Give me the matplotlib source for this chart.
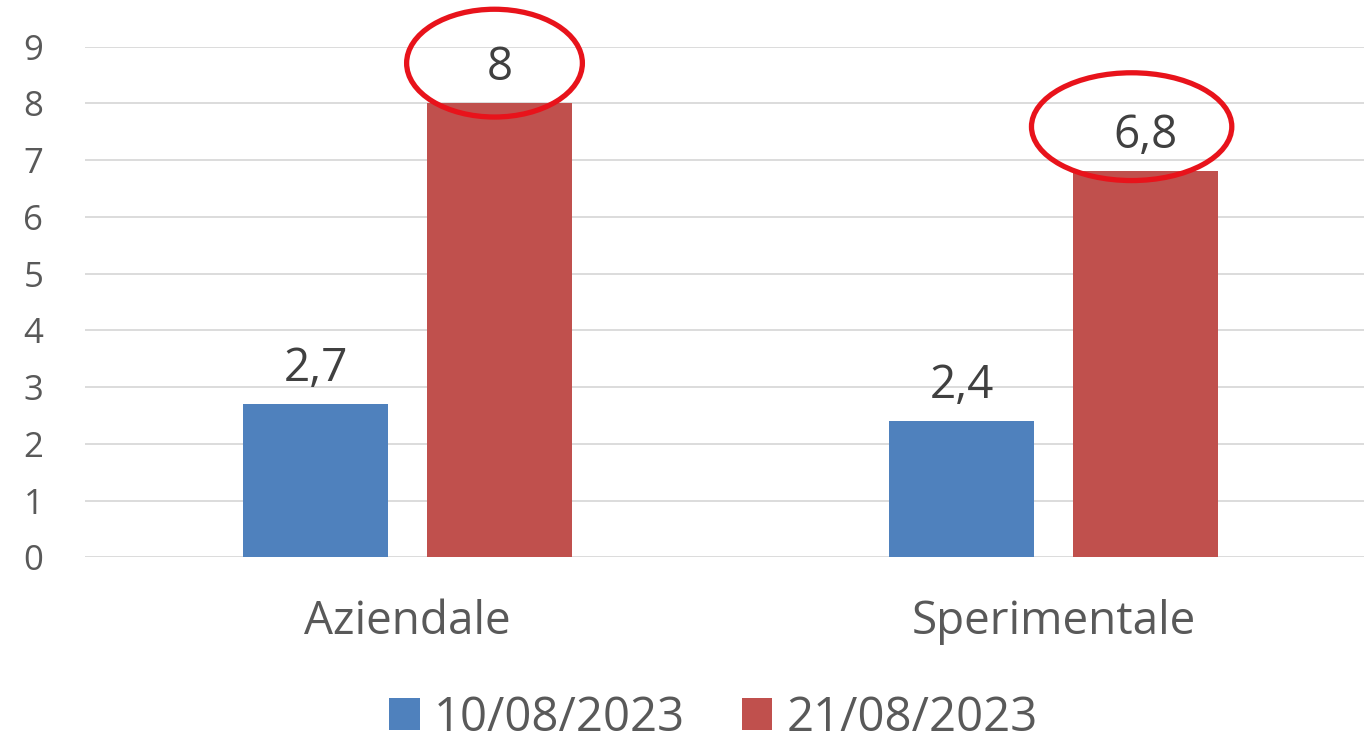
import matplotlib
matplotlib.use("Agg")
import matplotlib.pyplot as plt
from matplotlib.patches import Ellipse
import numpy as np

categories = ["Aziendale", "Sperimentale"]
series_names = ["10/08/2023", "21/08/2023"]
values_1 = [2.7, 2.4]
values_2 = [8.0, 6.8]
labels_1 = ["2,7", "2,4"]
labels_2 = ["8", "6,8"]

blue = "#4F81BD"
red = "#C0504D"
txt = "#595959"

plt.rcParams["font.family"] = ["Open Sans", "DejaVu Sans"]

fig = plt.figure(figsize=(13.64, 7.41), dpi=100)
ax = fig.add_axes([0.062, 0.248, 0.938, 0.689])

x = np.arange(len(categories))
w = 0.2245
off = 0.1424
ax.bar(x - off, values_1, w, color=blue, label=series_names[0], zorder=2)
ax.bar(x + off, values_2, w, color=red, label=series_names[1], zorder=2)

for xi, v, s in zip(x - off, values_1, labels_1):
    ax.annotate(s, (xi, v), xytext=(0, 9), textcoords="offset points",
                ha="center", va="bottom", fontsize=33, color="#404040")
for xi, v, s in zip(x + off, values_2, labels_2):
    ax.annotate(s, (xi, v), xytext=(0, 9), textcoords="offset points",
                ha="center", va="bottom", fontsize=33, color="#404040")

# red circles drawn around the second-date labels
ell_dx = [-0.008, -0.022]
ell_dy = [0.71, 0.79]
ell_w = [0.272, 0.31]
for xi, v, dx, dy, ew in zip(x + off, values_2, ell_dx, ell_dy, ell_w):
    ax.add_patch(Ellipse((xi + dx, v + dy), ew, 1.9, fill=False,
                         edgecolor="#E8131B", lw=3.8, zorder=3, clip_on=False))

ax.set_xlim(-0.5, 1.48)
ax.set_ylim(0, 9)
ax.set_yticks(range(10))
ax.yaxis.grid(True, color="#D9D9D9", lw=1.3, zorder=0)
ax.set_xticks(x)
ax.set_xticklabels(categories)
ax.tick_params(axis="both", length=0, labelsize=25, labelcolor=txt)
ax.tick_params(axis="x", labelsize=33, pad=30)
ax.tick_params(axis="y", pad=44)
for t in ax.get_yticklabels():
    t.set_horizontalalignment("left")
for sp in ax.spines.values():
    sp.set_visible(False)

fig.legend(loc="center", bbox_to_anchor=(0.523, 0.031), ncol=2, frameon=False,
           fontsize=34, labelcolor=txt, handlelength=0.65, handleheight=0.65,
           handletextpad=0.3, columnspacing=1.2)

fig.savefig("out.png", dpi=100)
